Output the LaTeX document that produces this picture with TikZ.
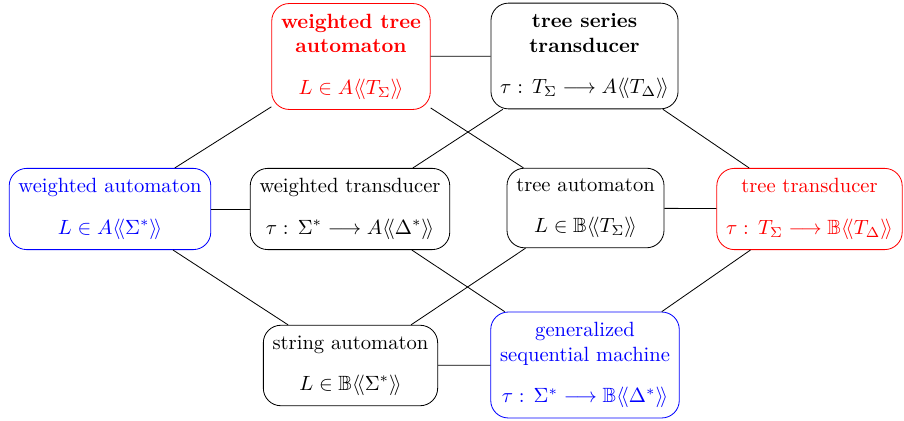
\documentclass[tikz,border=0pt]{standalone}
\usepackage{amssymb}
\newcommand\dbr[1]{\langle\!\langle #1\rangle\!\rangle}
\tikzset{
  box/.style={draw, rounded corners=8.5pt, align=center, inner xsep=4.5pt, inner ysep=5pt},
  redbox/.style={box, red, text=red},
  bluebox/.style={box, blue, text=blue},
}
\begin{document}
\begin{tikzpicture}[x=0.4856pt, y=-0.4856pt]
  \path[use as bounding box] (0,0) rectangle (904,421);

  \node[redbox] (wta) at (351,56.5)
    {\bfseries weighted tree\\ \bfseries automaton\\[8pt] $L\in A\dbr{T_\Sigma}$};
  \node[box] (tst) at (584.5,56)
    {\bfseries tree series\\ \bfseries transducer\\[8pt] $\tau:\,T_\Sigma\longrightarrow A\dbr{T_\Delta}$};
  \node[bluebox] (wa) at (110,209)
    {weighted automaton\\[8pt] $L\in A\dbr{\Sigma^*}$};
  \node[box] (wt) at (350,209)
    {weighted transducer\\[8pt] $\tau:\,\Sigma^*\longrightarrow A\dbr{\Delta^*}$};
  \node[box] (ta) at (585.5,208)
    {tree automaton\\[8pt] $L\in \mathbb{B}\dbr{T_\Sigma}$};
  \node[redbox] (tt) at (809.5,209)
    {tree transducer\\[8pt] $\tau:\,T_\Sigma\longrightarrow \mathbb{B}\dbr{T_\Delta}$};
  \node[box] (sa) at (350.5,365.5)
    {string automaton\\[8pt] $L\in \mathbb{B}\dbr{\Sigma^*}$};
  \node[bluebox] (gsm) at (585,365)
    {generalized\\ sequential machine\\[8pt] $\tau:\,\Sigma^*\longrightarrow \mathbb{B}\dbr{\Delta^*}$};

  \draw (wta) -- (tst);
  \draw (wta) -- (wa);
  \draw (wta) -- (ta);
  \draw (tst) -- (wt);
  \draw (tst) -- (tt);
  \draw (wa) -- (wt);
  \draw (ta) -- (tt);
  \draw (wa) -- (sa);
  \draw (wt) -- (gsm);
  \draw (ta) -- (sa);
  \draw (tt) -- (gsm);
  \draw (sa) -- (gsm);
\end{tikzpicture}
\end{document}
